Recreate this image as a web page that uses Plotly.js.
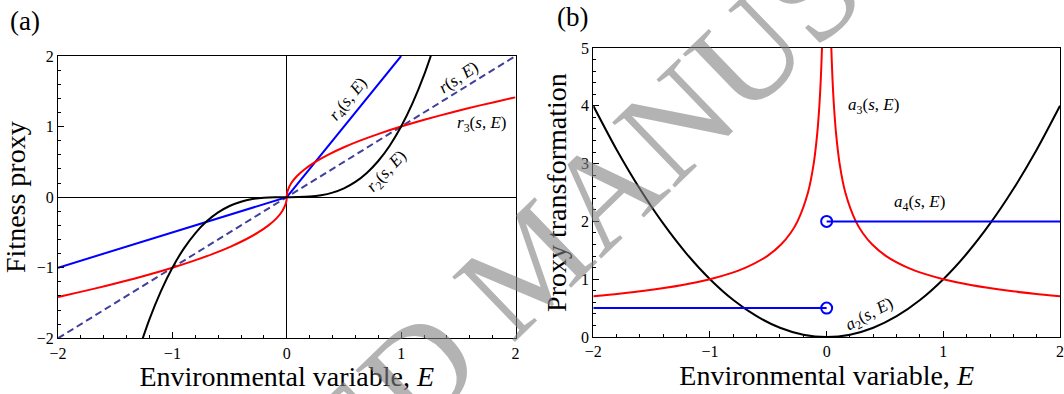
<!DOCTYPE html>
<html>
<head>
<meta charset="utf-8">
<script src="https://cdn.plot.ly/plotly-3.0.1.min.js"></script>
<style>html,body{margin:0;padding:0;background:#fff;}#chart{width:1064px;height:394px;}</style>
</head>
<body>
<div id="chart"></div>
<script>
// ---- Panel (a): fitness proxies ----
const E_r = [-2, 0, 2];
const r_vals = [-2, 0, 2];

const E_r4 = [-2, 0, 1];
const r4_vals = [-1, 0, 2];

const E_r3 = [-2, -1.96, -1.69, -1.44, -1.21, -1, -0.81, -0.64, -0.49, -0.36, -0.25, -0.16, -0.09, -0.04, -0.01, -0.0025, 0,
              0.0025, 0.01, 0.04, 0.09, 0.16, 0.25, 0.36, 0.49, 0.64, 0.81, 1, 1.21, 1.44, 1.69, 1.96, 2];
const r3_vals = [-1.414, -1.4, -1.3, -1.2, -1.1, -1, -0.9, -0.8, -0.7, -0.6, -0.5, -0.4, -0.3, -0.2, -0.1, -0.05, 0,
                 0.05, 0.1, 0.2, 0.3, 0.4, 0.5, 0.6, 0.7, 0.8, 0.9, 1, 1.1, 1.2, 1.3, 1.4, 1.414];

const E_r2 = [-1.28, -1.2, -1.1, -1, -0.9, -0.8, -0.7, -0.6, -0.5, -0.4, -0.3, -0.2, -0.1, 0,
              0.1, 0.2, 0.3, 0.4, 0.5, 0.6, 0.7, 0.8, 0.9, 1, 1.1, 1.2, 1.28];
const r2_vals = [-2.1, -1.728, -1.331, -1, -0.729, -0.512, -0.343, -0.216, -0.125, -0.064, -0.027, -0.008, -0.001, 0,
                 0.001, 0.008, 0.027, 0.064, 0.125, 0.216, 0.343, 0.512, 0.729, 1, 1.331, 1.728, 2.1];

// ---- Panel (b): proxy transformations ----
const E_a2 = [-2, -1.8, -1.6, -1.4, -1.2, -1, -0.8, -0.6, -0.4, -0.2, 0, 0.2, 0.4, 0.6, 0.8, 1, 1.2, 1.4, 1.6, 1.8, 2];
const a2_vals = [4, 3.24, 2.56, 1.96, 1.44, 1, 0.64, 0.36, 0.16, 0.04, 0, 0.04, 0.16, 0.36, 0.64, 1, 1.44, 1.96, 2.56, 3.24, 4];

const E_a3_left = [-2, -1.78, -1.5625, -1.235, -1, -0.826, -0.694, -0.51, -0.391, -0.309, -0.25, -0.16, -0.111, -0.0816, -0.0625, -0.0494, -0.04, -0.035];
const a3_left_vals = [0.707, 0.75, 0.8, 0.9, 1, 1.1, 1.2, 1.4, 1.6, 1.8, 2, 2.5, 3, 3.5, 4, 4.5, 5, 5.35];
const E_a3_right = [0.035, 0.04, 0.0494, 0.0625, 0.0816, 0.111, 0.16, 0.25, 0.309, 0.391, 0.51, 0.694, 0.826, 1, 1.235, 1.5625, 1.78, 2];
const a3_right_vals = [5.35, 5, 4.5, 4, 3.5, 3, 2.5, 2, 1.8, 1.6, 1.4, 1.2, 1.1, 1, 0.9, 0.8, 0.75, 0.707];

const E_a4_low = [-2, 0];
const a4_low_vals = [0.5, 0.5];
const E_a4_high = [0, 2];
const a4_high_vals = [2, 2];

// ---- Labels ----
const panelLabels = ['(a)', '(b)'];
const xTitle = 'Environmental variable, <i>E</i>';
const yTitleA = 'Fitness proxy';
const yTitleB = 'Proxy transformation';
const curveLabelsA = ['<i>r</i><sub>4</sub>(<i>s</i>, <i>E</i>)', '<i>r</i>(<i>s</i>, <i>E</i>)', '<i>r</i><sub>3</sub>(<i>s</i>, <i>E</i>)', '<i>r</i><sub>2</sub>(<i>s</i>, <i>E</i>)'];
const curveLabelsB = ['<i>a</i><sub>3</sub>(<i>s</i>, <i>E</i>)', '<i>a</i><sub>4</sub>(<i>s</i>, <i>E</i>)', '<i>a</i><sub>2</sub>(<i>s</i>, <i>E</i>)'];
const watermark = 'ACCEPTED MANUSCRIPT';

const SERIF = 'Liberation Serif, Times New Roman, serif';
const RED = '#ff0000', BLUE = '#0000ff', BLACK = '#000000', DASH = '#3f3f9c';

const traces = [
  {x: E_r, y: r_vals, xaxis: 'x', yaxis: 'y', mode: 'lines', line: {color: DASH, width: 2, dash: '7px,4px'}, hoverinfo: 'skip'},
  {x: E_r4, y: r4_vals, xaxis: 'x', yaxis: 'y', mode: 'lines', line: {color: BLUE, width: 2}, hoverinfo: 'skip'},
  {x: E_r3, y: r3_vals, xaxis: 'x', yaxis: 'y', mode: 'lines', line: {color: RED, width: 2, shape: 'spline', smoothing: 0.8}, hoverinfo: 'skip'},
  {x: E_r2, y: r2_vals, xaxis: 'x', yaxis: 'y', mode: 'lines', line: {color: BLACK, width: 2, shape: 'spline', smoothing: 0.8}, hoverinfo: 'skip'},

  {x: E_a2, y: a2_vals, xaxis: 'x2', yaxis: 'y2', mode: 'lines', line: {color: BLACK, width: 2, shape: 'spline', smoothing: 0.8}, hoverinfo: 'skip'},
  {x: E_a3_left, y: a3_left_vals, xaxis: 'x2', yaxis: 'y2', mode: 'lines', line: {color: RED, width: 2, shape: 'spline', smoothing: 0.8}, hoverinfo: 'skip'},
  {x: E_a3_right, y: a3_right_vals, xaxis: 'x2', yaxis: 'y2', mode: 'lines', line: {color: RED, width: 2, shape: 'spline', smoothing: 0.8}, hoverinfo: 'skip'},
  {x: E_a4_low, y: a4_low_vals, xaxis: 'x2', yaxis: 'y2', mode: 'lines', line: {color: BLUE, width: 2}, hoverinfo: 'skip'},
  {x: E_a4_high, y: a4_high_vals, xaxis: 'x2', yaxis: 'y2', mode: 'lines', line: {color: BLUE, width: 2}, hoverinfo: 'skip'},
  {x: [E_a4_low[1], E_a4_high[0]], y: [a4_low_vals[1], a4_high_vals[0]], xaxis: 'x2', yaxis: 'y2', mode: 'markers',
   marker: {symbol: 'circle-open', size: 11, color: BLUE, line: {width: 2, color: BLUE}}, hoverinfo: 'skip', cliponaxis: false}
];

function axisBase(extra) {
  return Object.assign({
    showgrid: false, showline: true, mirror: true, linecolor: '#000', linewidth: 1,
    ticks: 'inside', ticklen: 6, tickwidth: 1, tickcolor: '#000',
    minor: {ticks: 'inside', ticklen: 3, tickwidth: 1, tickcolor: '#000', dtick: 0.2, showgrid: false},
    tickfont: {family: SERIF, size: 16, color: '#000'},
    fixedrange: true
  }, extra);
}

const ann = [];
ann.push({text: panelLabels[0], xref: 'paper', yref: 'paper', x: 25/1064, y: 1 - 21/394, xanchor: 'center', yanchor: 'middle', showarrow: false, font: {family: SERIF, size: 27, color: '#000'}});
ann.push({text: panelLabels[1], xref: 'paper', yref: 'paper', x: 572/1064, y: 1 - 17/394, xanchor: 'center', yanchor: 'middle', showarrow: false, font: {family: SERIF, size: 27, color: '#000'}});

const lblFontA = {family: SERIF, size: 17, color: '#000'};
ann.push({text: curveLabelsA[0], xref: 'x', yref: 'y', x: 0.54, y: 1.38, textangle: -51, showarrow: false, font: lblFontA});
ann.push({text: curveLabelsA[1], xref: 'x', yref: 'y', x: 1.50, y: 1.69, textangle: -34, showarrow: false, font: lblFontA});
ann.push({text: curveLabelsA[2], xref: 'x', yref: 'y', x: 1.70, y: 1.03, showarrow: false, font: lblFontA});
ann.push({text: curveLabelsA[3], xref: 'x', yref: 'y', x: 0.88, y: 0.35, textangle: -47, showarrow: false, font: lblFontA});

ann.push({text: curveLabelsB[0], xref: 'x2', yref: 'y2', x: 0.40, y: 4.0, showarrow: false, font: lblFontA});
ann.push({text: curveLabelsB[1], xref: 'x2', yref: 'y2', x: 0.80, y: 2.32, showarrow: false, font: lblFontA});
ann.push({text: curveLabelsB[2], xref: 'x2', yref: 'y2', x: 0.37, y: 0.38, textangle: -28, showarrow: false, font: lblFontA});

ann.push({text: watermark, xref: 'paper', yref: 'paper', x: 530/1064, y: 1 - 262/394, xanchor: 'center', yanchor: 'middle',
          textangle: -44, showarrow: false,
          font: {family: SERIF, size: 138, color: 'rgba(128,128,128,0.6)'}});

const layout = {
  width: 1064, height: 394,
  margin: {l: 0, r: 0, t: 0, b: 0},
  paper_bgcolor: '#fff', plot_bgcolor: '#fff',
  showlegend: false,
  font: {family: SERIF, color: '#000'},
  xaxis: axisBase({domain: [58/1064, 515.5/1064], range: [-2, 2], dtick: 1, tick0: 0, anchor: 'y',
    zeroline: true, zerolinecolor: '#000', zerolinewidth: 1,
    title: {text: xTitle, font: {family: SERIF, size: 28, color: '#000'}, standoff: 2}}),
  yaxis: axisBase({domain: [1 - 338.3/394, 1 - 56/394], range: [-2, 2], dtick: 1, tick0: 0, anchor: 'x',
    zeroline: true, zerolinecolor: '#000', zerolinewidth: 1,
    title: {text: yTitleA, font: {family: SERIF, size: 28, color: '#000'}, standoff: 4}}),
  xaxis2: axisBase({domain: [593.3/1064, 1060/1064], range: [-2, 2], dtick: 1, tick0: 0, anchor: 'y2', zeroline: false,
    title: {text: xTitle, font: {family: SERIF, size: 28, color: '#000'}, standoff: 2}}),
  yaxis2: axisBase({domain: [1 - 337/394, 1 - 48/394], range: [0, 5], dtick: 1, tick0: 0, anchor: 'x2', zeroline: false,
    title: {text: yTitleB, font: {family: SERIF, size: 28, color: '#000'}, standoff: 6}}),
  annotations: ann
};

Plotly.newPlot('chart', traces, layout, {displayModeBar: false, staticPlot: true});
</script>
</body>
</html>
